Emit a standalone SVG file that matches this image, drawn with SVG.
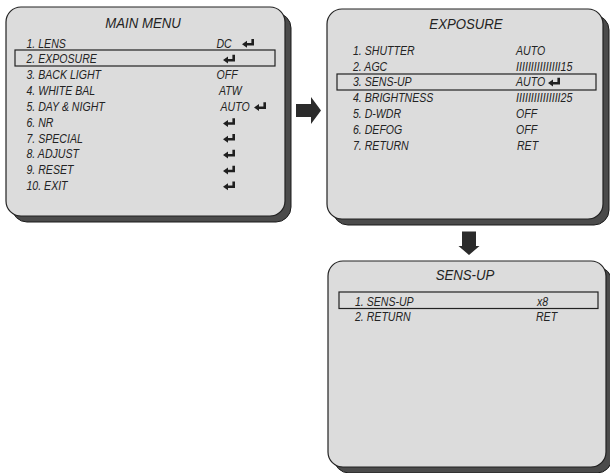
<svg xmlns="http://www.w3.org/2000/svg" xmlns:xlink="http://www.w3.org/1999/xlink" width="610" height="473" viewBox="0 0 610 473">
<style>
.panel{fill:#dcdcdc;stroke:#222;stroke-width:1.2}
.shadow{fill:#4b4b4b;stroke:#1a1a1a;stroke-width:1}
.sel{fill:none;stroke:#222;stroke-width:1.2}
text{font-family:"Liberation Sans",Arial,sans-serif;font-style:italic;fill:#232323}
.t{font-size:15px}
.i{font-size:12px}
.ent{fill:#1f1f1f}
.arrow{fill:#2b2b2b}
</style>
<defs>
<path id="ent" d="M0,5.3 L5,1.8 L5,4.1 L9.4,4.1 L9.4,0 L12,0 L12,6.6 L5,6.6 L5,8.8 Z"/>
</defs>
<rect width="610" height="473" fill="#ffffff"/>

<g id="main-menu">
<rect class="shadow" x="12" y="13" width="279" height="209" rx="15"/>
<rect class="panel" x="6" y="7" width="279" height="209" rx="15"/>
<rect class="sel" x="15" y="50" width="260" height="16"/>
<text class="t" text-anchor="middle" transform="translate(143 27.7) scale(0.88 1)">MAIN MENU</text>
<text class="i" transform="translate(26.5 47.5) scale(0.88 1)">1. LENS</text>
<text class="i" transform="translate(26.5 63.3) scale(0.88 1)">2. EXPOSURE</text>
<text class="i" transform="translate(26.5 79.2) scale(0.88 1)">3. BACK LIGHT</text>
<text class="i" transform="translate(26.5 95) scale(0.88 1)">4. WHITE BAL</text>
<text class="i" transform="translate(26.5 110.8) scale(0.88 1)">5. DAY &amp; NIGHT</text>
<text class="i" transform="translate(26.5 126.7) scale(0.88 1)">6. NR</text>
<text class="i" transform="translate(26.5 142.5) scale(0.88 1)">7. SPECIAL</text>
<text class="i" transform="translate(26.5 158.3) scale(0.88 1)">8. ADJUST</text>
<text class="i" transform="translate(26.5 174.2) scale(0.88 1)">9. RESET</text>
<text class="i" transform="translate(26.5 190) scale(0.88 1)">10. EXIT</text>
<text class="i" transform="translate(216.5 47.5) scale(0.88 1)">DC</text>
<text class="i" transform="translate(216.5 79.2) scale(0.88 1)">OFF</text>
<text class="i" transform="translate(219 95) scale(0.88 1)">ATW</text>
<text class="i" transform="translate(220.5 110.8) scale(0.88 1)">AUTO</text>
<use class="ent" xlink:href="#ent" x="242" y="39"/>
<use class="ent" xlink:href="#ent" x="223" y="54.8"/>
<use class="ent" xlink:href="#ent" x="254" y="102.3"/>
<use class="ent" xlink:href="#ent" x="223" y="118.2"/>
<use class="ent" xlink:href="#ent" x="223" y="134"/>
<use class="ent" xlink:href="#ent" x="223" y="149.8"/>
<use class="ent" xlink:href="#ent" x="223" y="165.7"/>
<use class="ent" xlink:href="#ent" x="223" y="181.5"/>
</g>

<g id="exposure">
<rect class="shadow" x="333" y="15" width="276" height="210" rx="15"/>
<rect class="panel" x="327" y="9" width="276" height="210" rx="15"/>
<rect class="sel" x="337" y="74" width="259" height="16"/>
<text class="t" text-anchor="middle" transform="translate(466 29) scale(0.88 1)">EXPOSURE</text>
<text class="i" transform="translate(353 54.8) scale(0.88 1)">1. SHUTTER</text>
<text class="i" transform="translate(353 70.6) scale(0.88 1)">2. AGC</text>
<text class="i" transform="translate(353 86.4) scale(0.88 1)">3. SENS-UP</text>
<text class="i" transform="translate(353 102.2) scale(0.88 1)">4. BRIGHTNESS</text>
<text class="i" transform="translate(353 118) scale(0.88 1)">5. D-WDR</text>
<text class="i" transform="translate(353 133.8) scale(0.88 1)">6. DEFOG</text>
<text class="i" transform="translate(353 149.6) scale(0.88 1)">7. RETURN</text>
<text class="i" transform="translate(516 54.8) scale(0.88 1)">AUTO</text>
<text class="i" x="516" y="70.6" textLength="56.5" lengthAdjust="spacingAndGlyphs">IIIIIIIIIIIIIII15</text>
<text class="i" transform="translate(516 86.4) scale(0.88 1)">AUTO</text>
<text class="i" x="516" y="102.2" textLength="56.5" lengthAdjust="spacingAndGlyphs">IIIIIIIIIIIIIII25</text>
<text class="i" transform="translate(516 118) scale(0.88 1)">OFF</text>
<text class="i" transform="translate(516 133.8) scale(0.88 1)">OFF</text>
<text class="i" transform="translate(517 149.6) scale(0.88 1)">RET</text>
<use class="ent" xlink:href="#ent" x="548" y="77.8"/>
</g>

<g id="sens-up">
<rect class="shadow" x="334" y="267" width="278" height="206" rx="15"/>
<rect class="panel" x="328" y="261" width="278" height="206" rx="15"/>
<rect class="sel" x="339" y="292" width="259" height="16.5"/>
<text class="t" text-anchor="middle" transform="translate(465 279.5) scale(0.88 1)">SENS-UP</text>
<text class="i" transform="translate(355 305.5) scale(0.88 1)">1. SENS-UP</text>
<text class="i" transform="translate(355 320.5) scale(0.88 1)">2. RETURN</text>
<text class="i" transform="translate(537 305.5) scale(0.88 1)">x8</text>
<text class="i" transform="translate(536 320.5) scale(0.88 1)">RET</text>
</g>

<g id="connectors">
<path class="arrow" d="M296,104 H311 V97 L321,110.5 L311,124 V117 H296 Z"/>
<path class="arrow" d="M462,231.5 H476 V246 H479.5 L469,255 L458.5,246 H462 Z"/>
</g>
</svg>
